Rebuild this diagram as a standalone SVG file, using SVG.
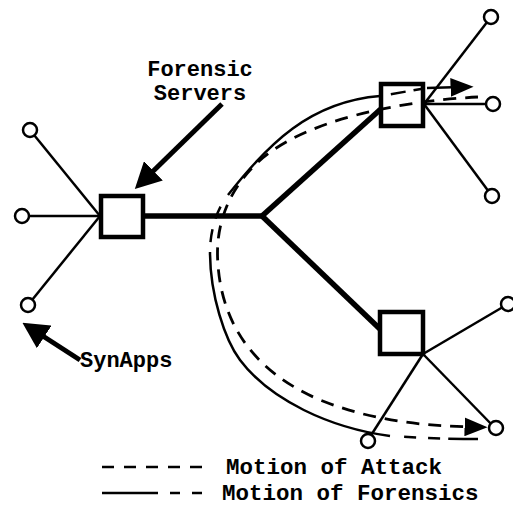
<svg xmlns="http://www.w3.org/2000/svg" width="513" height="517" viewBox="0 0 513 517">
  <style>
    .thin { stroke: #000; stroke-width: 2.5; fill: none; }
    .trunk { stroke: #000; stroke-width: 5.5; fill: none; }
    .server { fill: #fff; stroke: #000; stroke-width: 4.5; }
    .app { fill: #fff; stroke: #000; stroke-width: 2.5; }
    .attack { stroke: #000; stroke-width: 2.8; fill: none; stroke-dasharray: 13 9; }
    .forensics { stroke: #000; stroke-width: 2.5; fill: none; }
    .pointer { stroke: #000; stroke-width: 5; fill: none; }
    text { font-family: "Liberation Mono", "Courier New", monospace; font-weight: bold; font-size: 22.5px; fill: #000; }
    .callout { font-size: 22px; }
  </style>
  <defs>
    <marker id="bigHead" markerUnits="userSpaceOnUse" markerWidth="26" markerHeight="27" viewBox="0 0 25 26" refX="14" refY="13" orient="auto">
      <path d="M0,0 L25,13 L0,26 z" fill="#000"/>
    </marker>
    <marker id="flowHead" markerUnits="userSpaceOnUse" markerWidth="23" markerHeight="19" viewBox="0 0 22 18" refX="10" refY="9" orient="auto">
      <path d="M0,0 L22,9 L0,18 z" fill="#000"/>
    </marker>
  </defs>

  <!-- links between applications, servers and the backbone -->
  <g id="connectors">
    <line class="thin" x1="30" y1="130" x2="100" y2="216"/>
    <line class="thin" x1="22" y1="216" x2="100" y2="216"/>
    <line class="thin" x1="28" y1="305" x2="100" y2="216"/>
    <line class="trunk" x1="143" y1="216" x2="262" y2="216"/>
    <line class="trunk" x1="262" y1="216" x2="382" y2="108"/>
    <line class="trunk" x1="262" y1="216" x2="381" y2="330"/>
    <line class="thin" x1="491" y1="17" x2="424" y2="104"/>
    <line class="thin" x1="492" y1="104" x2="424" y2="104"/>
    <line class="thin" x1="492" y1="196" x2="424" y2="104"/>
    <line class="thin" x1="508" y1="304" x2="423" y2="354"/>
    <line class="thin" x1="495" y1="428" x2="423" y2="354"/>
    <line class="thin" x1="368" y1="440" x2="423" y2="354"/>

    <!-- callout arrows -->
    <line class="pointer" x1="222" y1="104" x2="143" y2="181" marker-end="url(#bigHead)"/>
    <line class="pointer" x1="80" y1="360" x2="32" y2="329" marker-end="url(#bigHead)"/>
  </g>

  <g id="forensic-server-west">
    <rect class="server" x="101" y="196" width="42" height="41"/>
  </g>
  <g id="forensic-server-north">
    <rect class="server" x="381" y="84" width="42" height="42"/>
  </g>
  <g id="forensic-server-south">
    <rect class="server" x="380" y="312" width="43" height="42"/>
  </g>

  <g id="synapp-w1"><circle class="app" cx="30" cy="130" r="7"/></g>
  <g id="synapp-w2"><circle class="app" cx="22" cy="216" r="7"/></g>
  <g id="synapp-w3"><circle class="app" cx="28" cy="305" r="7"/></g>
  <g id="synapp-n1"><circle class="app" cx="491" cy="17" r="7"/></g>
  <g id="synapp-n2"><circle class="app" cx="493" cy="104" r="7"/></g>
  <g id="synapp-n3"><circle class="app" cx="492" cy="196" r="7"/></g>
  <g id="synapp-s1"><circle class="app" cx="508" cy="304" r="7"/></g>
  <g id="synapp-s2"><circle class="app" cx="496" cy="428" r="7"/></g>
  <g id="synapp-s3"><circle class="app" cx="368" cy="441" r="7"/></g>

  <!-- flow loops, drawn over the servers -->
  <g id="flows">
    <!-- motion of attack: inner loop, top server round to the lower one -->
    <path class="attack" d="M478,97 C400,101 300,120 255,165 C225,195 215,230 218,265 C222,320 250,370 320,400 C370,420 420,426 475,427" marker-end="url(#flowHead)"/>
    <!-- motion of forensics: outer loop, lower server back up to the top one -->
    <path class="forensics" d="M478,439 C450,439 420,438 390,436" stroke-dasharray="30 8 12 12 12 100"/>
    <path class="forensics" d="M390,436 C330,428 270,400 240,360 C225,340 210,295 210,252"/>
    <path class="forensics" d="M210,252 C210,232 216,210 228,195" stroke-dasharray="0 10 13 11 13 100"/>
    <path class="forensics" d="M228,195 C268,144 310,101.6 380,96"/>
    <path class="forensics" d="M380,96 L427,88" stroke-dasharray="0 11 15 8 9 100"/>
    <path class="forensics" d="M427,88 L461,87" marker-end="url(#flowHead)"/>
  </g>

  <g id="label-servers">
    <text class="callout" x="200" y="76" text-anchor="middle">Forensic</text>
    <text class="callout" x="200" y="100" text-anchor="middle">Servers</text>
  </g>
  <g id="label-synapps">
    <text class="callout" x="80" y="367">SynApps</text>
  </g>

  <g id="legend">
    <line class="thin" x1="102" y1="467" x2="204" y2="467" stroke-dasharray="12 10"/>
    <text x="226" y="474">Motion of Attack</text>
    <line class="thin" x1="102" y1="493" x2="158" y2="493"/>
    <line class="thin" x1="170" y1="493" x2="204" y2="493" stroke-dasharray="10 12"/>
    <text x="222" y="500">Motion of Forensics</text>
  </g>
</svg>
